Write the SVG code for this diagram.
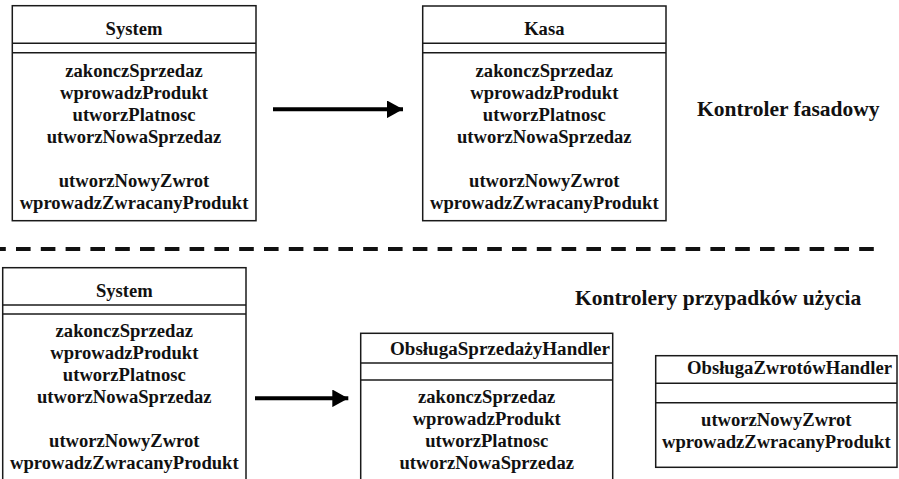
<svg xmlns="http://www.w3.org/2000/svg" width="899" height="479" viewBox="0 0 899 479">
  <style>
    .box { fill: #ffffff; stroke: #1a1a1a; stroke-width: 1.5; }
    .sep { stroke: #1a1a1a; stroke-width: 1.5; }
    .t { font-weight: bold; font-size: 18.6px; fill: #111111; }
    .c { text-anchor: middle; }
    .label { font-weight: bold; font-size: 21.5px; fill: #111111; }
    .arrow { stroke: #000000; stroke-width: 4; fill: none; }
    .dash { stroke: #111111; stroke-width: 4; stroke-dasharray: 14.6 10.2; }
  </style>
  <defs>
    <marker id="head" viewBox="0 0 4 4.4" refX="4" refY="2.2" markerWidth="4" markerHeight="4.4" orient="auto" markerUnits="strokeWidth">
      <path d="M0,0 L4,2.2 L0,4.4 Z" fill="#000000"/>
    </marker>
  </defs>
  <rect width="899" height="479" fill="#ffffff"/>

  <g font-family="Liberation Serif, Times New Roman, serif">
  <!-- upper part: facade controller -->
  <g id="system-top">
    <rect class="box" x="12.3" y="5.7" width="243.7" height="215"/>
    <line class="sep" x1="12.3" y1="43.3" x2="256" y2="43.3"/>
    <line class="sep" x1="12.3" y1="52.7" x2="256" y2="52.7"/>
    <text class="t c" x="134" y="35">System</text>
    <text class="t c" x="134" y="77">zakonczSprzedaz</text>
    <text class="t c" x="134" y="99">wprowadzProdukt</text>
    <text class="t c" x="134" y="121">utworzPlatnosc</text>
    <text class="t c" x="134" y="143">utworzNowaSprzedaz</text>
    <text class="t c" x="134" y="187">utworzNowyZwrot</text>
    <text class="t c" x="134" y="209">wprowadzZwracanyProdukt</text>
  </g>

  <g id="kasa">
    <rect class="box" x="422.7" y="6" width="243.3" height="214.7"/>
    <line class="sep" x1="422.7" y1="43.3" x2="666" y2="43.3"/>
    <line class="sep" x1="422.7" y1="52.7" x2="666" y2="52.7"/>
    <text class="t c" x="544.3" y="35">Kasa</text>
    <text class="t c" x="544.3" y="77">zakonczSprzedaz</text>
    <text class="t c" x="544.3" y="99">wprowadzProdukt</text>
    <text class="t c" x="544.3" y="121">utworzPlatnosc</text>
    <text class="t c" x="544.3" y="143">utworzNowaSprzedaz</text>
    <text class="t c" x="544.3" y="187">utworzNowyZwrot</text>
    <text class="t c" x="544.3" y="209">wprowadzZwracanyProdukt</text>
  </g>

  <text class="label" x="697" y="116">Kontroler fasadowy</text>

  <line class="dash" x1="-8.8" y1="249" x2="874" y2="249"/>

  <text class="label" x="575" y="305">Kontrolery przypadków użycia</text>

  <!-- lower part: use-case controllers -->
  <g id="system-bottom">
    <rect class="box" x="2.7" y="267.7" width="243.3" height="230"/>
    <line class="sep" x1="2.7" y1="305" x2="246" y2="305"/>
    <line class="sep" x1="2.7" y1="314" x2="246" y2="314"/>
    <text class="t c" x="124.3" y="296.7">System</text>
    <text class="t c" x="124.3" y="336.7">zakonczSprzedaz</text>
    <text class="t c" x="124.3" y="358.7">wprowadzProdukt</text>
    <text class="t c" x="124.3" y="380.7">utworzPlatnosc</text>
    <text class="t c" x="124.3" y="402.7">utworzNowaSprzedaz</text>
    <text class="t c" x="124.3" y="446.7">utworzNowyZwrot</text>
    <text class="t c" x="124.3" y="468.5">wprowadzZwracanyProdukt</text>
  </g>

  <g id="obsluga-sprzedazy">
    <rect class="box" x="360.7" y="333.3" width="252" height="170"/>
    <line class="sep" x1="360.7" y1="363" x2="612.7" y2="363"/>
    <line class="sep" x1="360.7" y1="380" x2="612.7" y2="380"/>
    <text class="t" x="390" y="355" textLength="220" lengthAdjust="spacingAndGlyphs">ObsługaSprzedażyHandler</text>
    <text class="t c" x="486.7" y="402.7">zakonczSprzedaz</text>
    <text class="t c" x="486.7" y="424.7">wprowadzProdukt</text>
    <text class="t c" x="486.7" y="446.7">utworzPlatnosc</text>
    <text class="t c" x="486.7" y="468.7">utworzNowaSprzedaz</text>
  </g>

  <g id="obsluga-zwrotow">
    <rect class="box" x="655.7" y="355.7" width="241.3" height="111.6"/>
    <line class="sep" x1="655.7" y1="383.3" x2="897" y2="383.3"/>
    <line class="sep" x1="655.7" y1="402.7" x2="897" y2="402.7"/>
    <text class="t" x="687" y="374" textLength="205" lengthAdjust="spacingAndGlyphs">ObsługaZwrotówHandler</text>
    <text class="t c" x="776.3" y="426">utworzNowyZwrot</text>
    <text class="t c" x="776.3" y="448">wprowadzZwracanyProdukt</text>
  </g>
  </g>

  <g id="connectors">
    <line class="arrow" x1="273" y1="109.3" x2="403" y2="109.3" marker-end="url(#head)"/>
    <line class="arrow" x1="255" y1="398.3" x2="348.3" y2="398.3" marker-end="url(#head)"/>
  </g>
</svg>
